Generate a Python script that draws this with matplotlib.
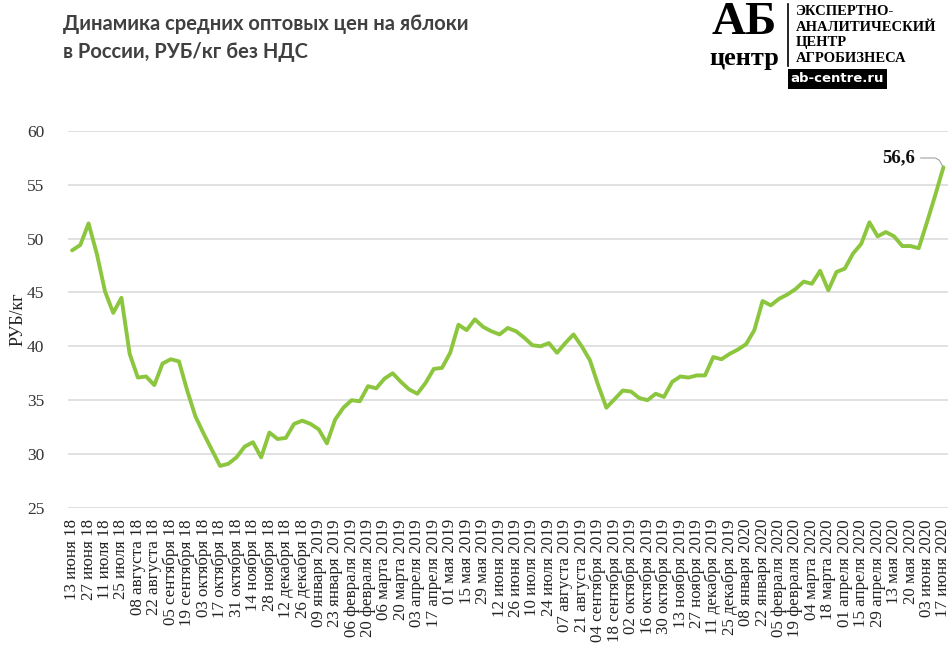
import matplotlib
matplotlib.use("Agg")
import matplotlib.pyplot as plt
from matplotlib.patches import Rectangle
from matplotlib.lines import Line2D

# ---- data ----
tick_labels = ["13 июня 18", "27 июня 18", "11 июля 18", "25 июля 18", "08 августа 18",
               "22 августа 18", "05 сентября 18", "19 сентября 18", "03 октября 18",
               "17 октября 18", "31 октября 18", "14 ноября 18", "28 ноября 18",
               "12 декабря 18", "26 декабря 18", "09 января 2019", "23 января 2019",
               "06 февраля 2019", "20 февраля 2019", "06 марта 2019", "20 марта 2019",
               "03 апреля 2019", "17 апреля 2019", "01 мая 2019", "15 мая 2019",
               "29 мая 2019", "12 июня 2019", "26 июня 2019", "10 июля 2019",
               "24 июля 2019", "07 августа 2019", "21 августа 2019", "04 сентября 2019",
               "18 сентября 2019", "02 октября 2019", "16 октября 2019", "30 октября 2019",
               "13 ноября 2019", "27 ноября 2019", "11 декабря 2019", "25 декабря 2019",
               "08 января 2020", "22 января 2020", "05 февраля 2020", "19 февраля 2020",
               "04 марта 2020", "18 марта 2020", "01 апреля 2020", "15 апреля 2020",
               "29 апреля 2020", "13 мая 2020", "20 мая 2020", "03 июня 2020", "17 июня 2020"]

prices = [48.9, 49.4, 51.4, 48.6, 45.1, 43.1, 44.5, 39.3, 37.1, 37.2,
          36.4, 38.4, 38.8, 38.6, 35.9, 33.5, 31.9, 30.4, 28.9, 29.1,
          29.7, 30.7, 31.1, 29.7, 32.0, 31.4, 31.5, 32.8, 33.1, 32.8,
          32.3, 31.0, 33.2, 34.3, 35.0, 34.9, 36.3, 36.1, 37.0, 37.5,
          36.7, 36.0, 35.6, 36.6, 37.9, 38.0, 39.4, 42.0, 41.5, 42.5,
          41.8, 41.4, 41.1, 41.7, 41.4, 40.8, 40.1, 40.0, 40.3, 39.4,
          40.3, 41.1, 40.0, 38.7, 36.4, 34.3, 35.1, 35.9, 35.8, 35.2,
          35.0, 35.6, 35.3, 36.7, 37.2, 37.1, 37.3, 37.3, 39.0, 38.8,
          39.3, 39.7, 40.2, 41.5, 44.2, 43.8, 44.4, 44.8, 45.3, 46.0,
          45.8, 47.0, 45.2, 46.9, 47.2, 48.6, 49.5, 51.5, 50.2, 50.6,
          50.2, 49.3, 49.3, 49.1, 51.5, 54.0, 56.6]

y_ticks = [25, 30, 35, 40, 45, 50, 55, 60]
title = "Динамика средних оптовых цен на яблоки\nв России, РУБ/кг без НДС"
last_label = "56,6"

W, H = 950, 651
fig = plt.figure(figsize=(W / 100, H / 100), dpi=100)
fig.patch.set_facecolor("white")

def fx(px):
    return px / W

def fy(py):
    return 1 - py / H

ax = fig.add_axes([fx(68), fy(508), fx(947.5) - fx(68), fy(130.7) - fy(508)])
x = list(range(len(prices)))
ax.plot(x, prices, color="#8CC63E", linewidth=2.8, solid_joinstyle="round",
        solid_capstyle="round", zorder=3)

ax.set_xlim(-0.5, len(prices) - 0.5)
ax.set_ylim(25, 60)
ax.set_yticks(y_ticks)
ax.set_yticklabels([str(v) for v in y_ticks], fontfamily="Liberation Serif",
                   fontsize=12.5, color="#333333")
ax.set_xticks(list(range(0, len(prices), 2)))
ax.set_xticklabels(tick_labels, rotation=90, fontfamily="Liberation Serif",
                   fontsize=12.2, color="#222222")
ax.tick_params(axis="both", length=0)
ax.tick_params(axis="y", pad=17)
ax.tick_params(axis="x", pad=8)
ax.grid(axis="y", color="#d9d9d9", linewidth=1.1, zorder=0)
ax.set_axisbelow(True)
for s in ax.spines.values():
    s.set_visible(False)
ax.set_ylabel("РУБ/кг", fontfamily="Liberation Serif", fontsize=13, color="#222222")
ax.yaxis.set_label_coords((27 - 68) / 879.5, 0.5)

# annotation for last value
ax.annotate(last_label, xy=(x[-1], prices[-1]), xycoords="data",
            xytext=(fx(915), fy(158)), textcoords="figure fraction",
            ha="right", va="center", fontfamily="Liberation Serif",
            fontweight="bold", fontsize=13.5, color="#111111",
            arrowprops=dict(arrowstyle="-", color="#a0a0a0", linewidth=0.8,
                            shrinkA=2, shrinkB=1,
                            connectionstyle="angle,angleA=0,angleB=120,rad=4"))

# title
fig.text(fx(63), fy(38), title, ha="left", va="center", fontfamily="Lato",
         fontweight="bold", fontsize=14.5, color="#404040", linespacing=1.45)

# logo
fig.text(fx(744), fy(23), "АБ", ha="center", va="center", fontfamily="Liberation Serif",
         fontweight="bold", fontsize=34, color="black")
fig.text(fx(744), fy(58), "центр", ha="center", va="center", fontfamily="Liberation Serif",
         fontweight="bold", fontsize=19, color="black")
fig.add_artist(Line2D([fx(788), fx(788)], [fy(4), fy(66)], color="black", linewidth=1.2))
fig.text(fx(796), fy(35), "ЭКСПЕРТНО-\nАНАЛИТИЧЕСКИЙ\nЦЕНТР\nАГРОБИЗНЕСА",
         ha="left", va="center", fontfamily="Liberation Serif", fontweight="bold",
         fontsize=10.5, color="black", linespacing=1.25)
fig.add_artist(Rectangle((fx(788), fy(89)), fx(887) - fx(788), fy(69) - fy(89),
                         facecolor="black", edgecolor="none", transform=fig.transFigure))
fig.text(fx(837), fy(79), "ab-centre.ru", ha="center", va="center", fontfamily="DejaVu Sans",
         fontweight="bold", fontsize=9.5, color="white")

fig.savefig("out.png", dpi=100, facecolor="white")
